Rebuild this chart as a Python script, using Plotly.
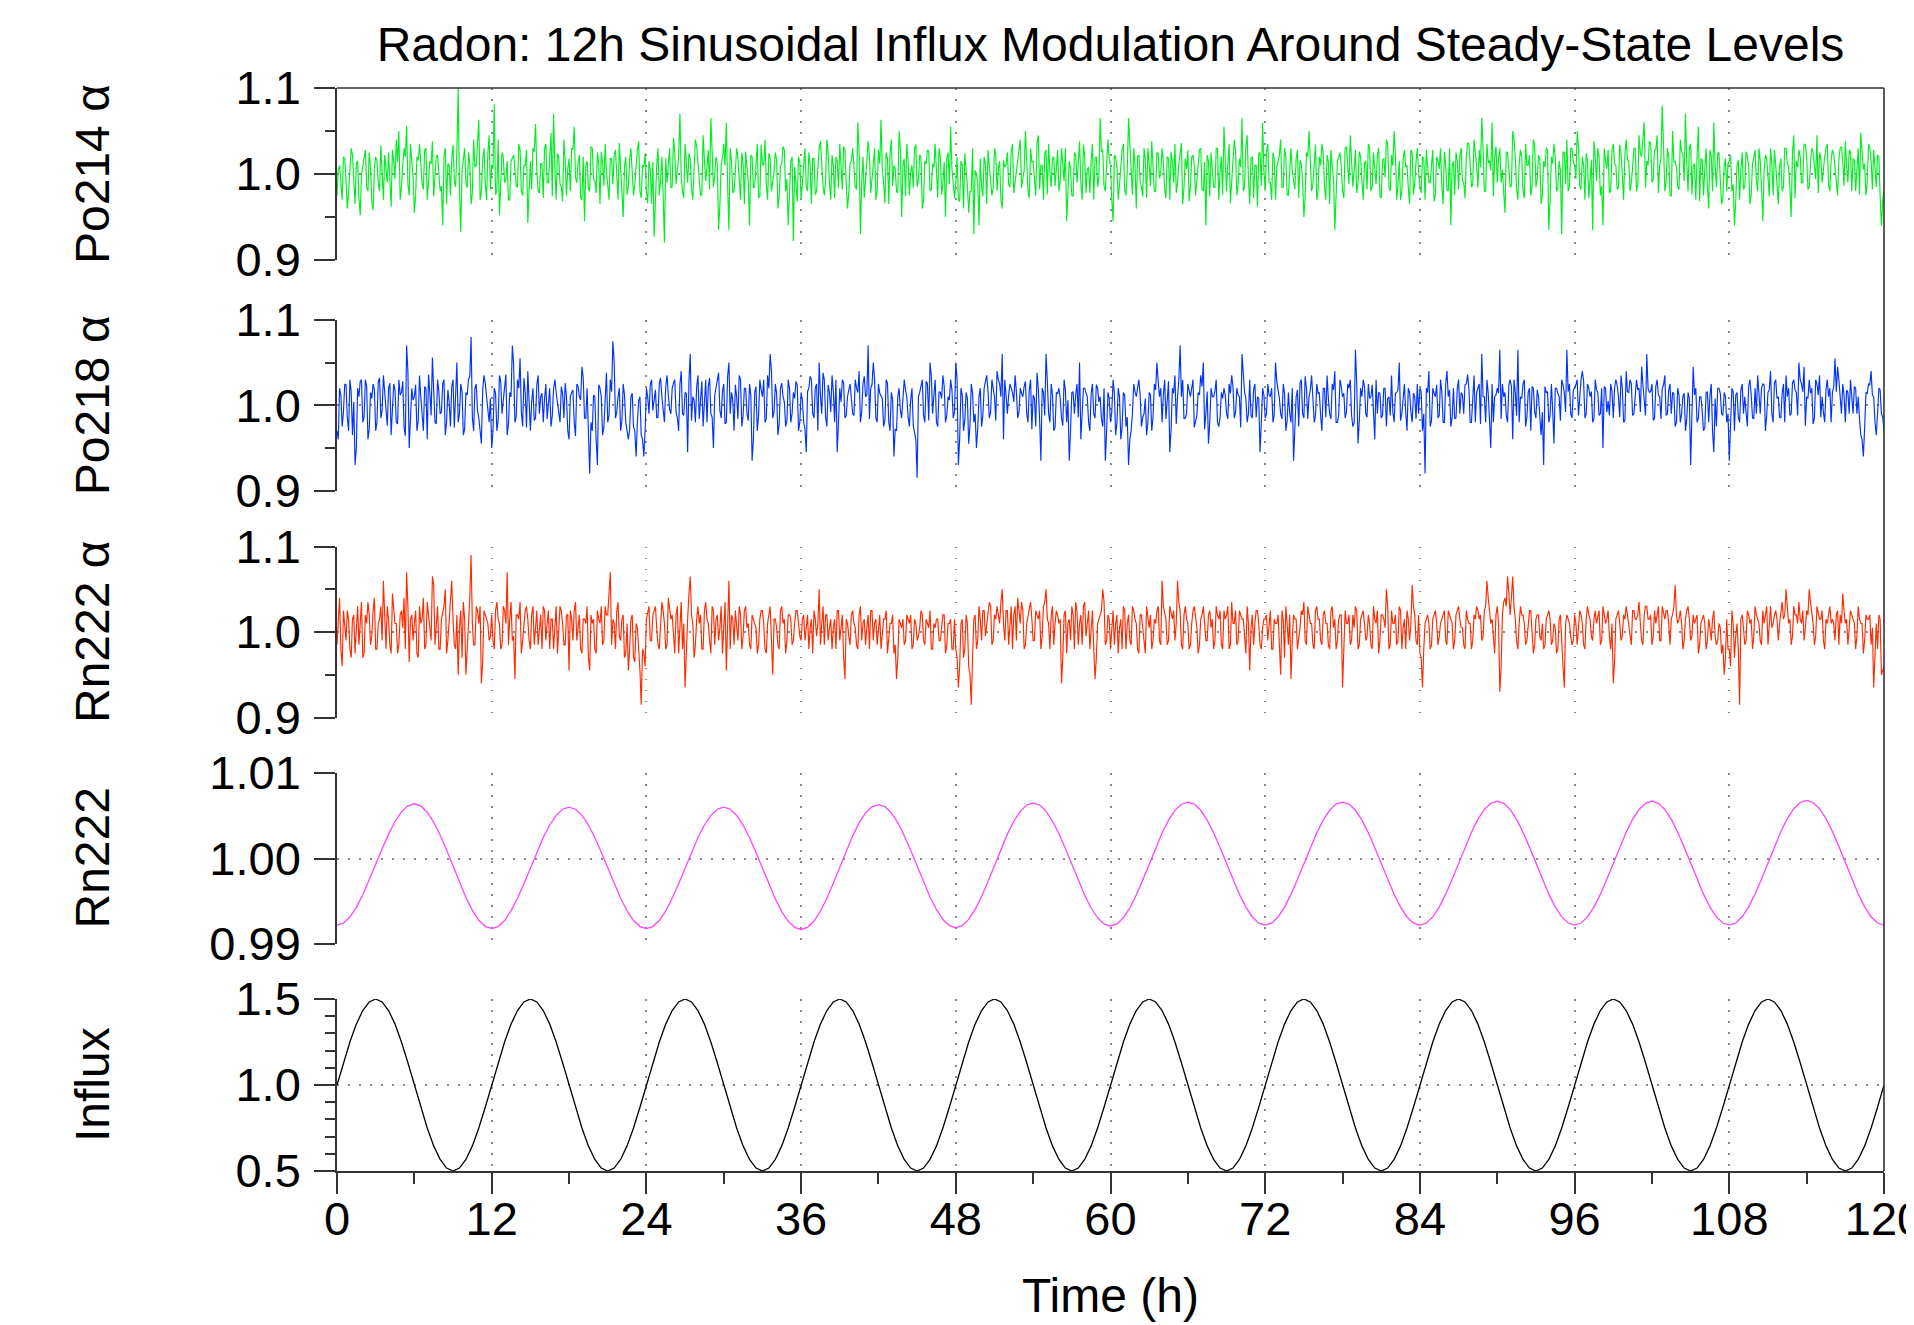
import plotly.graph_objects as go

# ---------------- data ----------------
# Noise series: deviations from 1.0 in thousandths.
# *_even: samples at t = 0.0, 0.2, ..., 120.0 h ; *_odd: samples at t = 0.1, 0.3, ..., 119.9 h
po214_even = [
    -25, 10, -30, 18, -40, 5, 22, -35, 15, -48, 12, 28, -20, 8, -42, 20, -10, 33, -30, 5,
    25, -38, 15, 40, 50, -15, 30, 56, -25, 10, -45, 20, 35, -10, 28, -30, 15, 38, -5, 22,
    -20, -60, 30, 12, -25, 34, -15, 100, -67, 20, -10, 25, -35, 40, 10, 63, -20, 30, -30, 45,
    10, 81, -20, -48, 25, -10, 15, -30, 20, 5, -15, 28, -25, 10, -57, 15, 30, 58, -20, 12,
    -28, 35, -10, 48, 70, -30, 20, -15, 40, -25, 18, 30, 55, -10, 22, -30, -55, 15, -20, 30,
    -8, 25, -35, 12, 35, -20, 18, -12, 28, -30, 10, -50, 20, -15, 30, -25, 15, 38, -28, 8,
    -20, 15, -35, -73, 10, -25, 20, -80, -10, 30, -15, 25, 5, 70, -20, 35, -10, 18, -30, 40,
    12, -25, 45, -8, 28, 65, -15, 20, -65, 10, 35, 60, -65, 15, -20, 30, -10, 25, -35, 8,
    -60, 20, -15, 35, -25, 12, 40, -30, 18, -10, 25, -40, 10, 32, -20, -60, 15, -78, -15, 20,
    -30, 10, -15, 25, -35, 18, -20, 30, 5, -25, 40, -10, 22, -28, 15, 35, -18, 28, -40, 12,
    30, -15, 60, -70, 20, -5, 38, -22, 15, -30, 28, 63, -10, 25, -35, 40, 10, -20, 50, -50,
    18, 35, -25, 10, 30, -15, 22, -40, 15, 28, -20, 12, 35, -28, 20, -10, -50, 25, 55, -15,
    -10, -30, 15, -40, 5, -45, -20, -70, 0, -60, -15, 20, -35, 10, -25, 30, -20, 15, -40, 8,
    25, -15, 35, -10, 20, 40, -5, 50, -20, 30, 15, -25, 45, 10, -30, 28, 35, -15, 20, 12,
    -20, 30, -8, -55, 15, -25, 25, -10, 38, -30, 20, 5, -22, 35, 18, -15, 65, 28, -20, 40,
    10, -55, 20, -30, 15, 35, -25, 65, -10, 30, -40, 22, -15, 30, -28, 12, 38, -20, 25, -5,
    30, -18, 20, -30, 15, 35, -10, 25, -35, 18, 28, -15, 22, -25, 10, 30, -20, -60, 15, 25,
    -15, 30, -30, 20, 55, -20, 35, -10, 40, -25, 18, 65, -15, 45, -35, 20, 10, -38, 25, 60,
    -20, 35, -10, 25, -30, 15, 40, -15, 20, -25, 30, -10, 18, -28, 12, -50, 25, 50, -20, 15,
    -30, 20, 35, -15, 22, -35, 10, -65, 15, 25, -20, 30, 12, 45, -15, 28, -10, 20, -30, 15,
    35, -20, 25, -12, 30, -28, 18, 40, -15, 22, 50, -30, 15, -20, 28, 10, -35, 25, -10, 30,
    -15, 20, -30, 12, -10, 28, -25, 15, 30, -35, 10, -20, -60, 15, 25, -18, 30, -10, 20, 35,
    -15, 40, 10, 28, 65, -20, 35, 15, 60, 20, -10, 30, 5, -45, 25, -15, 50, 20, -30, 28,
    -20, 35, 10, -25, 40, -15, 22, -35, 15, 30, -65, 20, 35, -20, 15, -70, 25, 40, -15, 30,
    10, 50, -15, 20, -30, 15, -10, -65, 20, 30, -25, -60, 15, 28, -20, 35, 10, -15, 25, -30,
    40, 15, -10, 30, -20, 45, 20, 60, 15, 38, -10, 28, 45, 10, 80, -20, 30, -25, 50, 15,
    -15, 40, 22, 70, -20, 35, 10, -30, 55, 18, -25, 30, -40, 20, 60, -15, 25, -35, 10, -20,
    15, -20, -60, 10, -30, 25, -15, 20, -35, 12, 28, -20, 15, -55, 22, -10, 30, -25, 10, -35,
    18, -15, 30, 10, -50, 45, 15, 28, -10, 35, 20, -15, 30, 10, 45, 25, -10, 20, 35, -20,
    28, 10, -25, 30, 15, 38, -10, 25, 18, -20, 30, 48, 5, -25, 35, 15, 28, -15, 20, -60,
    -20,
]
po214_odd = [
    5, -12, 20, -8, -22, 30, -5, 12, -28, 0, 18, -15, 25, -32, 8, 15, -20, 3, 22, -10,
    -18, 28, -6, 14, -30, 10, 20, -12, 35, -4, -25, 16, 8, -18, 30, -8, 12, -26, 20, 2,
    -14, 22, -35, 10, 18, -8, 26, -20, 4, 30, -16, 12, -22, 8, 45, -30, 16, -10, 24, -18,
    6, -24, 40, -12, 20, -6, -30, 15, 22, -14, 35, -20, 10, 28, -8, -18, 26, 4, -22, 12,
    30, -10, 18, -26, 8, 24, -12, -32, 16, 6, -20, 28, -4, 14, -28, 20, 10, -16, 32, -6,
    -22, 12, 26, -14, 4, -30, 18, 22, -10, 36, -18, 8, -24, 16, 2, -12, 28, -20, 10, 24,
    -34, 6, 14, -20, 30, -8, -26, 18, 10, -16, 42, -12, 20, -4, -28, 14, 24, -18, 6, 32,
    -10, -24, 16, 8, -18, 26, -2, 12, -36, 20, 10, -14, 30, -22, 4, 18, -30, 14, 26, -8,
    22, -16, 6, -28, 34, 10, -12, 24, -20, 2, 16, -26, 12, 28, -6, -18, 20, 8, -32, 14,
    -4, 30, -20, 12, 18, -24, 6, 38, -14, -8, 24, -30, 10, 20, -16, 4, 32, -12, -22, 16,
    8, -18, 26, -10, -28, 14, 22, -6, 30, -20, 12, 4, -34, 18, 24, -14, 6, -22, 28, 10,
    -26, 16, 2, -16, 34, -8, 20, -30, 12, 26, -18, 8, -4, 30, -24, 14, 18, -12, 6, -28,
    20, -32, 10, 24, -14, -20, 30, 4, -10, 18, -26, 12, 28, -8, -16, 22, 6, -30, 16, 10,
    -12, 26, -22, 8, 32, -16, 4, 20, -28, 14, -6, 36, -18, 10, 24, -24, 2, 18, -14, 28,
    -8, 14, 30, -20, 6, -26, 22, 12, -10, 34, -22, 8, 16, -30, 20, -4, 26, -14, 10, 18,
    -30, 22, 8, -12, 28, -18, 4, 32, -24, 10, 20, -8, -26, 16, 30, -14, 6, -20, 24, 2,
    14, -28, 18, 26, -10, -22, 12, 36, -16, 6, -32, 20, 10, -6, 28, -18, 14, 22, -26, 8,
    -16, 30, 4, -24, 16, 12, -34, 20, 26, -12, 8, -20, 32, -6, 18, -28, 10, 24, -14, 4,
    26, -10, -30, 18, 8, 22, -16, 30, -24, 12, 4, -18, 28, 16, -8, -26, 20, 6, -12, 34,
    -20, 10, 24, -30, 14, 28, -6, -16, 20, 8, -28, 32, -12, 18, 4, -22, 26, -8, 12, -18,
    30, -14, 6, 22, -26, 16, -4, 34, -20, 10, 24, -12, -30, 18, 8, -16, 28, -24, 14, 2,
    -22, 18, 28, -10, 12, -32, 20, 6, -14, 26, -18, 30, 8, -24, 16, 22, -8, -28, 36, 10,
    -12, 24, -16, 8, 30, -20, 14, 4, -26, 32, 18, -10, -22, 26, 6, -14, 40, -18, 12, 20,
    -28, 10, 22, -14, 34, -6, 18, -24, 8, 28, -30, 12, 20, -16, 4, 26, -12, -20, 30, 14,
    -6, 32, -18, 10, 24, -28, 16, 38, -8, 20, -14, 30, 6, -22, 28, 12, -18, 34, -10, 22,
    16, -20, 8, 30, -12, 24, 42, -16, 10, 36, -6, 28, -22, 18, 32, -10, 20, -26, 14, 8,
    -18, 26, -8, 14, 30, -24, 12, 20, -32, 16, 6, -14, 28, -20, 10, 24, -6, -28, 18, 12,
    22, -12, -30, 16, 6, -18, 26, 10, -24, 20, -8, 30, -16, 4, 18, -26, 12, 28, -14, 8,
    -20, 30, 12, -16, 24, -28, 8, 20, -10, 34, -18, 14, 26, -6, -22, 18, 10, 30, -12, 16,
    24, -8, 18, 32, -14, 10, 28, -20, 16, 6, -24, 26, 12, -10, 30, -18, 8, 22, -26, -30,
]

po218_even = [
    -30, 20, -25, 25, -15, 30, -35, -70, 20, 28, -20, 30, -40, 15, 25, -30, 28, -15, 35, -10,
    20, -35, 25, -20, 30, 15, -25, 70, -50, 20, 10, -30, 35, -15, 22, -40, 15, 56, -20, 30,
    -10, 25, -35, 18, -25, 30, 10, -20, 25, -35, 15, 30, 80, -30, 25, -15, -45, 35, 10, -20,
    -50, 20, -30, 35, -10, 25, -35, 15, 70, -20, 30, 55, -25, 15, 40, -30, 20, -15, 35, 10,
    -20, 25, 5, -25, 20, 15, -10, 22, -15, 10, -40, 15, -20, 25, 10, 45, -15, 20, -80, -30,
    10, -70, 20, -35, 15, -20, 30, 75, -15, 10, -30, 25, -20, -40, 10, -25, -60, 5, -35, -60,
    20, -10, 30, 5, -15, 25, 10, -20, 35, -5, 20, 30, -15, 25, -10, 15, -55, 60, 10, -20,
    35, 15, -25, 30, 22, -10, -50, 20, 38, -15, 25, -20, 50, 15, -30, 10, 35, -25, 20, -10,
    25, -65, 15, -30, 30, 10, -20, 35, 60, -15, 25, -35, 20, 10, -25, 30, -20, 15, 28, -30,
    15, -20, -55, 20, 30, -15, 25, 50, -10, 30, -25, 15, 35, -20, -55, 20, 30, -15, 10, 25,
    -10, 30, 15, -20, 25, 10, 70, 20, 50, -15, 25, 10, -25, 30, -20, 15, -60, -30, 20, -15,
    30, 10, -25, 20, -35, -85, 15, 30, -20, 25, 50, -10, 30, -25, 15, 35, -20, 10, 30, -15,
    50, -70, 20, -30, 15, -45, 25, -20, -50, 10, -25, 20, 35, -15, 30, 10, 40, 25, 60, 30,
    -10, 25, 15, 35, -15, 20, 10, 28, -20, 30, 12, -25, 20, -65, 15, 60, -10, 25, -30, 15,
    20, -15, 30, -20, -65, 15, -10, 25, 50, -15, 20, 10, -30, 25, -15, 20, 10, -25, -65, 15,
    -20, 30, -35, 20, -40, 15, -25, -70, -30, 25, 10, 30, -25, -10, -35, 15, -30, 25, 50, 10,
    -20, 30, 15, -55, 20, 35, 10, 70, 30, -15, 25, 10, 30, -20, 15, 35, 50, -10, -45, 20,
    10, 30, -25, 15, 20, -10, 25, 35, -15, 20, 10, 60, 15, -20, 30, -15, 25, 10, -55, 20,
    -15, 25, 10, -20, 50, 20, -10, 25, -30, 15, -20, -65, 10, -25, 30, -15, 20, 10, 35, -20,
    25, 15, -30, 20, 35, -10, 25, 40, -20, 30, 10, -15, 25, 30, -25, 65, -45, 20, 30, -10,
    25, 10, -20, 30, 15, -15, 20, -25, 10, 35, -20, 15, 50, -10, 25, -30, 15, -20, 10, 25,
    20, -30, -80, 15, -25, 20, 10, -15, 30, -20, 25, 10, -25, 20, -15, 30, 15, -10, 25, 20,
    -20, 35, 15, 25, 60, 10, 30, -15, 25, 10, 20, 65, 25, 15, -20, 30, -40, 15, 65, 10,
    25, -25, 15, -30, 20, -15, 10, -35, -70, 15, -20, 25, -45, 20, 10, 30, 15, 65, 25, -15,
    20, 30, 10, 40, -15, 25, 10, -20, 30, 15, -10, -50, 20, 5, 25, -15, 30, 10, 35, -20,
    40, 15, 25, -10, 30, 20, 45, 10, 60, 15, 25, -15, 30, 10, 20, 35, -10, 25, 15, -25,
    20, -20, 10, -30, 15, -70, 45, 20, -15, 10, -30, 15, -20, 25, -55, -25, 20, -10, 15, -20,
    -65, 20, -30, 15, -20, 25, 10, -25, 30, -15, 20, 35, -10, 25, -30, 15, 40, -20, 30, 10,
    -15, 25, 35, 20, -10, 30, 15, 50, 25, 45, 10, 30, 20, -15, 25, 35, 10, -20, 30, 20,
    15, 55, 45, 10, 25, -20, 15, 30, -10, 20, 10, -35, -60, 15, 25, 40, 10, -35, 20, -10,
    -30,
]
po218_odd = [
    -40, 12, -8, 24, -30, 16, 4, -50, 10, 30, -14, 22, -28, 8, 18, -20, 32, -6, 14, -24,
    26, -10, 18, -22, 12, 28, -36, 40, -16, 6, 24, -18, 10, -30, 20, 36, -12, 8, -22, 16,
    -8, 30, -20, 4, 22, -26, 50, -10, 16, -28, 12, 34, -14, 20, -6, -36, 18, 26, -12, 8,
    -30, 14, -18, 28, 6, 36, -22, 10, 48, -14, 20, -8, 32, -26, 12, 4, -18, 24, -10, 14,
    8, -16, 20, -12, 30, 2, -20, 14, 26, -30, 10, 18, -36, 22, 6, 32, -16, -50, -20, 12,
    -40, 24, 10, -26, 38, -12, 16, 50, -8, 20, -18, 12, -32, -28, 14, -30, -20, 10, -40, -30,
    10, 24, -6, 18, -14, 32, -4, 22, 12, -10, 26, -8, -30, 40, -12, 14, 28, -18, 6, 22,
    -16, 28, 8, -20, 32, -14, 12, 26, -6, 16, -22, 34, -10, 6, 24, -16, 30, -12, 20, -18,
    12, -40, 22, -12, 18, 30, -16, 20, 40, -8, 14, -22, 26, 4, -18, 20, -10, 8, 24, -20,
    6, -28, 16, 34, -10, 20, -30, 12, 38, -14, 24, -8, 16, 30, -20, 4, 26, -12, 18, 8,
    -12, 20, 40, -8, 34, 12, -16, 24, 30, -20, 14, 8, -18, 26, -30, 6, -28, 10, -6, 4,
    18, -14, 6, -24, -40, 10, 22, -12, 28, -18, 34, 12, -20, 16, 8, 22, -12, 6, 18, -8,
    30, -40, 12, -18, 8, -24, 14, -10, -28, 20, -12, 28, 16, -8, 20, -18, 30, 10, -40, 12,
    12, 20, 4, 16, -8, 14, 22, -10, 18, -28, 8, 38, -16, 20, -12, 28, -20, 12, -26, 14,
    8, -24, 18, 6, -30, 16, 12, -14, -40, 20, 16, -20, 14, -10, 24, 4, -16, 20, -30, 8,
    -8, 14, -20, 10, -26, 12, -14, -40, -10, 16, 20, 12, -14, 8, -20, 12, -14, 18, 28, 20,
    12, -16, 28, -28, 14, -22, 30, 10, -16, -10, 18, 20, -26, -12, 12, 22, -28, 16, -20, 10,
    16, -20, -14, 8, 12, -16, 14, 22, -8, 12, -26, 36, 8, -10, -12, 18, -14, 8, -20, 12,
    -10, 12, 20, -12, 28, 8, -16, 14, -18, -10, 20, -24, 18, 26, -10, 34, -16, 18, 8, -12,
    14, -12, 20, -14, 8, -16, 18, -20, -12, 22, 14, -8, 20, -12, -20, 26, -18, 10, 22, -14,
    8, 24, -40, -10, 14, -12, 20, 8, -12, -8, 14, 18, -18, 12, -8, 20, -8, 14, -16, -10,
    16, -10, 20, 40, -18, 14, 24, -12, 16, -20, 40, 18, -14, -16, 20, -10, 12, 24, 36, -20,
    8, -20, 20, -22, 10, -20, 14, -50, -20, 12, 14, -16, 10, -12, 24, 22, 30, -12, -20, 8,
    30, -14, 20, 22, -8, 18, -14, -8, 22, 16, -12, -6, 20, 14, -18, 24, -8, 16, -10, 18,
    24, -12, 30, 28, -10, 20, 16, -16, 18, -12, 20, 22, -8, -12, 16, 20, 24, -14, 20, -18,
    16, 30, -12, 14, 18, -8, 24, -12, 20, 16, -18, 22, 12, -16, 24, -12, 18, -10, 14, -20,
    12, -10, 14, -16, 8, -22, 12, -20, 10, -8, -26, 16, 12, -30, 8, 20, 14, -12, 10, -10,
    -22, 16, 12, -14, 18, -10, -8, 22, 12, -16, -10, 14, 20, 24, -12, 18, -10, 26, 8, -14,
    14, -20, 10, -12, 26, 18, -12, 30, 16, -24, 8, 14, -22, 30, 12, -14, -8, 18, 10, -20,
    22, 16, 30, -10, 12, 18, -10, 14, 22, -10, -16, -40, -26, 14, 24, 12, -20, -10, 18, -14,
]

rn222a_even = [
    -15, 40, -40, 10, 25, -20, 15, -25, 30, 10, -30, 20, 35, -15, 25, -20, 10, 30, 60, -20,
    15, -25, 30, 10, -15, 25, 40, 70, -35, 20, 10, -25, 30, 15, -20, 35, 10, 65, -15, 30,
    -20, 25, 50, -10, 30, 15, -20, -50, 25, 35, -50, 20, 90, -15, 30, 10, -60, 25, 15, -10,
    20, -20, 35, 10, -15, 25, 70, 15, -10, -55, 20, 35, -10, 25, 15, -20, 30, 10, -15, 20,
    30, -10, 25, 15, -20, 30, 10, 25, -15, 20, -45, 15, 25, -10, 20, -25, 15, 30, -45, 10,
    -20, 25, 10, -15, 30, 20, 70, 15, -20, 35, -10, 20, -25, -45, 15, -30, 10, -20, -85, -25,
    15, 30, -10, 25, 5, -20, 35, 10, -15, 25, 20, -25, 30, 10, -20, -65, 15, 65, 10, -15,
    30, 20, -20, 35, 10, -25, 25, 15, -10, 30, 5, -45, 60, 20, -15, 10, 30, -20, 25, 5,
    -15, 20, 10, -25, 15, 25, -20, 10, 30, -50, 15, -15, 25, 10, -25, 20, 15, -10, 25, 10,
    -10, 20, 5, -20, 15, 25, -5, 50, 10, -15, 20, 5, -20, 15, 25, -10, 20, -55, 10, -15,
    25, 5, -20, 30, 10, -15, 20, 25, -10, 15, 5, -20, 15, 25, -5, 10, -25, -55, 15, 5,
    -15, 20, 10, -20, 15, -10, 5, 20, -15, 10, 25, -20, 5, 15, -10, 20, -25, 10, 15, -20,
    -20, -65, 10, -30, 20, -40, -85, 15, -20, 30, -10, 25, 10, 35, -15, 20, 30, 10, 50, -10,
    25, 15, -20, 30, 40, 10, 25, -15, 20, 35, -10, 25, 15, -20, 30, 50, 10, 20, -15, 25,
    10, -60, 20, -25, 15, 30, -20, 25, 10, -15, 35, 15, -20, 25, -55, 10, 20, 50, -15, 20,
    -20, 25, 10, -25, 15, 30, -20, 20, -15, 25, 10, -25, 20, -15, 30, 5, -20, 15, 25, -10,
    60, 20, -15, 30, 15, -10, 60, 25, -20, 30, 10, -15, 25, 20, -25, 15, 30, -10, 20, 5,
    -20, 30, 15, -15, 25, 20, -20, 35, 10, -15, 25, 15, -10, 30, -45, 20, 10, 25, -15, 5,
    15, -10, 25, -20, 10, 20, -50, 15, 30, -15, -55, 20, 15, -10, 25, 35, -15, 20, 10, -20,
    30, 15, -15, 25, 10, -20, 30, 15, -10, 20, -65, 25, 10, -15, 20, 30, -20, 15, 25, -10,
    20, -15, 30, 10, -25, 20, 15, 50, -20, 25, 10, -15, 30, -20, 15, 25, -10, 55, 20, -15,
    -25, -65, 10, 20, -20, 15, 25, -15, 10, 20, -10, 25, 15, -20, 20, 30, 5, -15, 25, 10,
    -20, 20, 30, 15, -10, 25, 60, 20, 15, -25, 30, -70, 20, 40, 65, 20, 65, 15, -20, 30,
    20, -15, 10, 25, -25, 15, 20, -10, -20, 15, 25, -15, 10, -25, 15, -20, -65, 20, 10, -15,
    20, -15, 25, 10, -20, 30, 15, -10, 25, 20, -15, 30, 10, 25, -20, -60, 15, 25, -10, 20,
    30, 10, -15, 25, 15, 35, -10, 20, 30, 15, -15, 25, 20, -10, 30, 15, 25, -15, 20, 55,
    10, 25, -20, 15, 30, -10, 20, 15, -25, 10, 20, -20, 15, -10, 25, -15, 10, -25, -50, 15,
    -20, 25, -30, 10, -85, 20, -15, 25, 10, -20, 30, 15, -10, 25, 20, -15, 30, 10, 25, -10,
    20, 15, 50, 10, -15, 30, 20, 35, 10, -10, 25, 50, 20, -15, 30, 15, 25, -20, 10, 30,
    15, -10, 25, 20, 45, 10, -15, 25, 15, -20, 30, 10, -25, 20, 15, -15, -65, 10, 20, -50,
    -40,
]
rn222a_odd = [
    10, -20, 25, -10, 15, -30, 20, 5, -15, 35, -25, 10, 20, -5, 40, -20, 15, -10, 25, 30,
    -15, 45, 10, -25, 20, 5, -20, 30, 15, -10, 25, -30, 10, 40, -15, 20, -10, 55, 5, -20,
    15, 30, -25, 10, 60, -15, 20, 5, -30, 15, -20, 40, 10, -15, 25, 30, -35, 20, 10, -5,
    -10, 25, 15, -20, 30, 10, -15, 35, -5, 20, 15, -25, 10, 30, -10, 20, -15, 25, 5, -20,
    25, 10, -20, 15, 5, -25, 30, 10, -15, 20, 25, -10, 35, 5, -20, 15, 10, -30, 20, 15,
    -25, 15, 30, -10, 20, 45, -15, 10, 25, -5, 15, -30, 10, -20, 20, -35, 5, -45, -20, -40,
    25, -10, 20, 30, -15, 10, 25, -20, 40, 15, -10, 20, -25, 35, 10, -15, 45, 20, -30, 15,
    10, -20, 25, 15, -10, 30, -15, 20, 5, -25, 35, 10, -20, 15, 25, -10, 20, -5, 30, 10,
    -20, 15, 5, -15, 25, 10, -25, 20, -10, 15, 5, -20, 30, 15, -10, 20, -15, 10, 25, -5,
    15, -10, 20, 5, -25, 15, 10, -15, 30, 20, -10, 15, 5, -20, 25, 10, -30, 15, -5, 20,
    10, -15, 20, -10, 15, 5, -20, 25, 10, -15, 20, -5, 15, -25, 10, 20, -15, -30, 10, 15,
    -10, 15, 20, -15, 10, -5, 25, -10, 15, 5, -20, 10, 15, -10, 5, 20, -15, 10, -20, 15,
    -30, -40, 15, -20, 10, -50, -30, 20, -10, 15, 25, -5, 20, 30, -10, 15, 20, 35, 10, 25,
    -15, 30, 20, -10, 25, 35, -20, 10, 30, 15, -10, 20, 25, -5, 35, 15, -20, 30, 10, 20,
    15, -30, 25, 10, -10, 20, 35, -15, 20, 30, -5, 25, 10, -20, -30, 15, 25, 35, -10, 15,
    10, -15, 20, 5, -20, 25, 10, -10, 30, 15, -20, 20, 5, -25, 15, 20, -10, 10, 30, -15,
    30, 15, -10, 20, 25, 10, 35, -15, 20, 15, -20, 10, 30, 5, -15, 20, 10, -10, 25, 15,
    -10, 20, 25, -20, 15, 30, -15, 10, 25, -10, 20, 15, -25, 10, 5, -15, 25, 10, -20, 15,
    20, 5, -20, 15, 10, -15, 25, -30, 10, 20, -10, 15, -20, 5, 20, -10, 30, 10, -15, 25,
    15, -10, 20, 10, -15, 25, 5, -20, 15, 20, -30, 10, 20, -10, 5, 25, -15, 20, 10, -5,
    10, -20, 15, 25, -10, 20, 5, 30, -15, 10, 20, -10, 25, 5, -20, 15, 10, 30, -10, 20,
    -30, -20, 15, 10, -15, 20, 10, -5, 15, 25, -15, 20, 10, -10, 25, 15, 5, -20, 15, 10,
    -10, 15, 25, 20, -5, 30, 40, 10, -10, 20, 10, -40, 35, 30, 45, 40, 30, -10, 10, 20,
    10, -10, 25, 5, -15, 20, -5, 10, -15, 20, 15, -10, 5, -20, 20, -40, 10, 15, -5, -10,
    10, 5, 20, -15, 15, 20, -5, 15, 10, 25, -10, 20, 15, -5, 10, -35, 20, 10, -5, 15,
    20, -5, 25, 15, 20, 10, -15, 30, 15, 20, -5, 10, 30, -10, 20, 25, 10, 15, 30, 20,
    15, 10, -10, 25, 15, -5, 10, 20, -15, 15, 10, -10, 5, 15, -5, -10, 5, -15, -30, -20,
    -40, 10, -5, -20, 15, 5, -10, 20, 15, -5, 20, 10, -15, 10, 30, 15, 5, 20, 15, 10,
    35, 20, 25, 15, -5, 20, 10, 15, 25, 5, 20, 35, 10, -5, 20, 15, -10, 15, 20, 10,
    10, 20, -15, 10, 25, 15, 5, 20, 10, -5, 15, 10, -10, 15, 20, 5, -30, -20, 15, -45,
]

# Rn222 concentration (relative), 0.5 h spacing
rn222 = [
    0.9922, 0.99244, 0.99315, 0.99428, 0.99575, 0.99746, 0.9993, 1.00114, 1.00285, 1.00432, 1.00545, 1.00616,
    1.0064, 1.00615, 1.00542, 1.00426, 1.00275, 1.00099, 0.9991, 0.99721, 0.99545, 0.99394, 0.99278, 0.99205,
    0.9918, 0.99204, 0.99275, 0.99388, 0.99535, 0.99706, 0.9989, 1.00074, 1.00245, 1.00392, 1.00505, 1.00576,
    1.006, 1.00576, 1.00505, 1.00392, 1.00245, 1.00074, 0.9989, 0.99706, 0.99535, 0.99388, 0.99275, 0.99204,
    0.9918, 0.99204, 0.99275, 0.99388, 0.99535, 0.99706, 0.9989, 1.00074, 1.00245, 1.00392, 1.00505, 1.00576,
    1.006, 1.00576, 1.00504, 1.00391, 1.00242, 1.0007, 0.99885, 0.997, 0.99527, 0.99379, 0.99266, 0.99194,
    0.9917, 0.99195, 0.99268, 0.99384, 0.99535, 0.99711, 0.999, 1.00089, 1.00265, 1.00416, 1.00532, 1.00605,
    1.0063, 1.00606, 1.00534, 1.00419, 1.0027, 1.00096, 0.9991, 0.99724, 0.9955, 0.99401, 0.99286, 0.99214,
    0.9919, 0.99215, 0.99288, 0.99404, 0.99555, 0.99731, 0.9992, 1.00109, 1.00285, 1.00436, 1.00552, 1.00625,
    1.0065, 1.00626, 1.00554, 1.00439, 1.0029, 1.00116, 0.9993, 0.99744, 0.9957, 0.99421, 0.99306, 0.99234,
    0.9921, 0.99235, 0.99307, 0.99422, 0.99573, 0.99747, 0.99935, 1.00123, 1.00298, 1.00448, 1.00563, 1.00635,
    1.0066, 1.00636, 1.00564, 1.00449, 1.003, 1.00126, 0.9994, 0.99754, 0.9958, 0.99431, 0.99316, 0.99244,
    0.9922, 0.99244, 0.99316, 0.99431, 0.9958, 0.99754, 0.9994, 1.00126, 1.003, 1.00449, 1.00564, 1.00636,
    1.0066, 1.00636, 1.00564, 1.00449, 1.003, 1.00126, 0.9994, 0.99754, 0.9958, 0.99431, 0.99316, 0.99244,
    0.9922, 0.99245, 0.99317, 0.99432, 0.99583, 0.99757, 0.99945, 1.00133, 1.00308, 1.00458, 1.00573, 1.00645,
    1.0067, 1.00645, 1.00573, 1.00458, 1.00308, 1.00133, 0.99945, 0.99757, 0.99583, 0.99432, 0.99317, 0.99245,
    0.9922, 0.99245, 0.99317, 0.99432, 0.99583, 0.99757, 0.99945, 1.00133, 1.00308, 1.00458, 1.00573, 1.00645,
    1.0067, 1.00645, 1.00573, 1.00458, 1.00308, 1.00133, 0.99945, 0.99757, 0.99583, 0.99432, 0.99317, 0.99245,
    0.9922, 0.99245, 0.99318, 0.99434, 0.99585, 0.99761, 0.9995, 1.00139, 1.00315, 1.00466, 1.00582, 1.00655,
    1.0068, 1.00655, 1.00582, 1.00466, 1.00315, 1.00139, 0.9995, 0.99761, 0.99585, 0.99434, 0.99318, 0.99245,
    0.9922,
]

# Influx (relative), 0.5 h spacing
influx = [
    1.0, 1.129, 1.25, 1.354, 1.433, 1.483, 1.5, 1.483, 1.433, 1.354, 1.25, 1.129,
    1.0, 0.871, 0.75, 0.646, 0.567, 0.517, 0.5, 0.517, 0.567, 0.646, 0.75, 0.871,
    1.0, 1.129, 1.25, 1.354, 1.433, 1.483, 1.5, 1.483, 1.433, 1.354, 1.25, 1.129,
    1.0, 0.871, 0.75, 0.646, 0.567, 0.517, 0.5, 0.517, 0.567, 0.646, 0.75, 0.871,
    1.0, 1.129, 1.25, 1.354, 1.433, 1.483, 1.5, 1.483, 1.433, 1.354, 1.25, 1.129,
    1.0, 0.871, 0.75, 0.646, 0.567, 0.517, 0.5, 0.517, 0.567, 0.646, 0.75, 0.871,
    1.0, 1.129, 1.25, 1.354, 1.433, 1.483, 1.5, 1.483, 1.433, 1.354, 1.25, 1.129,
    1.0, 0.871, 0.75, 0.646, 0.567, 0.517, 0.5, 0.517, 0.567, 0.646, 0.75, 0.871,
    1.0, 1.129, 1.25, 1.354, 1.433, 1.483, 1.5, 1.483, 1.433, 1.354, 1.25, 1.129,
    1.0, 0.871, 0.75, 0.646, 0.567, 0.517, 0.5, 0.517, 0.567, 0.646, 0.75, 0.871,
    1.0, 1.129, 1.25, 1.354, 1.433, 1.483, 1.5, 1.483, 1.433, 1.354, 1.25, 1.129,
    1.0, 0.871, 0.75, 0.646, 0.567, 0.517, 0.5, 0.517, 0.567, 0.646, 0.75, 0.871,
    1.0, 1.129, 1.25, 1.354, 1.433, 1.483, 1.5, 1.483, 1.433, 1.354, 1.25, 1.129,
    1.0, 0.871, 0.75, 0.646, 0.567, 0.517, 0.5, 0.517, 0.567, 0.646, 0.75, 0.871,
    1.0, 1.129, 1.25, 1.354, 1.433, 1.483, 1.5, 1.483, 1.433, 1.354, 1.25, 1.129,
    1.0, 0.871, 0.75, 0.646, 0.567, 0.517, 0.5, 0.517, 0.567, 0.646, 0.75, 0.871,
    1.0, 1.129, 1.25, 1.354, 1.433, 1.483, 1.5, 1.483, 1.433, 1.354, 1.25, 1.129,
    1.0, 0.871, 0.75, 0.646, 0.567, 0.517, 0.5, 0.517, 0.567, 0.646, 0.75, 0.871,
    1.0, 1.129, 1.25, 1.354, 1.433, 1.483, 1.5, 1.483, 1.433, 1.354, 1.25, 1.129,
    1.0, 0.871, 0.75, 0.646, 0.567, 0.517, 0.5, 0.517, 0.567, 0.646, 0.75, 0.871,
    1.0,
]

panel_labels = ["Po214 α", "Po218 α", "Rn222 α", "Rn222", "Influx"]
y_ranges = [[0.9, 1.1], [0.9, 1.1], [0.9, 1.1], [0.99, 1.01], [0.5, 1.5]]
y_major = [0.1, 0.1, 0.1, 0.01, 0.5]
y_minor = [0.05, 0.05, 0.05, None, 0.1]
y_formats = [".1f", ".1f", ".1f", ".2f", ".1f"]
x_ticks = [0, 12, 24, 36, 48, 60, 72, 84, 96, 108, 120]
title_text = "Radon: 12h Sinusoidal Influx Modulation Around Steady-State Levels"
x_title = "Time (h)"

# ---------------- build ----------------
def times(n, total=120.0):
    return [round(total * i / (n - 1), 4) for i in range(n)]

def merge_milli(even, odd):
    out = []
    for k, v in enumerate(even):
        out.append(1 + v / 1000)
        if k < len(odd) and k < len(even) - 1:
            out.append(1 + odd[k] / 1000)
    return out

series = [
    merge_milli(po214_even, po214_odd),
    merge_milli(po218_even, po218_odd),
    merge_milli(rn222a_even, rn222a_odd),
    rn222,
    influx,
]
colors = ["#00ee22", "#0033ff", "#ff2a00", "#ff44ff", "#000000"]
widths = [1.15, 1.15, 1.15, 1.3, 1.3]

# the page body has an 8px margin, so the figure is drawn 8px smaller and
# all measured page positions are shifted by 8px
OFF = 8
W, H = 1914 - OFF, 1325 - OFF
ML = 337 - OFF
MT = 88 - OFF
MR = 1914 - 1884
MB = 1325 - 1171
plot_w = W - ML - MR
plot_h = H - MT - MB
bands = [(88, 260), (320, 490.5), (546.5, 717.5), (773, 944), (999, 1171)]  # page px
domains = [[(1171 - b) / plot_h, (1171 - t) / plot_h] for t, b in bands]

FONT = "Liberation Sans, Arial, Helvetica, sans-serif"
AX = "#333333"
GRID = "#8a8a8a"
TICKSIZE = 47

fig = go.Figure()
for i, ys in enumerate(series):
    fig.add_trace(go.Scatter(
        x=times(len(ys)), y=ys, mode="lines",
        line=dict(color=colors[i], width=widths[i]),
        xaxis="x" if i == 0 else f"x{i+1}",
        yaxis="y" if i == 0 else f"y{i+1}",
        showlegend=False, hoverinfo="skip",
    ))

layout = dict(
    width=W, height=H, autosize=False,
    margin=dict(l=ML, r=MR, t=MT, b=MB, autoexpand=False),
    paper_bgcolor="white", plot_bgcolor="white",
    font=dict(family=FONT, size=TICKSIZE, color="black"),
    title=dict(text=title_text, x=0.5, xref="paper", xanchor="center",
               y=1 - (44 - OFF) / H, yref="container", yanchor="middle",
               font=dict(size=48, family=FONT, color="black")),
    showlegend=False,
)

for i in range(5):
    xs = "xaxis" if i == 0 else f"xaxis{i+1}"
    ysn = "yaxis" if i == 0 else f"yaxis{i+1}"
    last = (i == 4)
    xa = dict(
        domain=[0, 1], anchor="y" if i == 0 else f"y{i+1}",
        range=[0, 120], tickmode="array", tickvals=x_ticks,
        showgrid=True, gridcolor=GRID, gridwidth=1.6, griddash="1.6px,9.4px",
        zeroline=False, automargin=False,
        showticklabels=last, ticklabeloverflow="allow", ticklabelstandoff=-15,
        ticks="outside" if last else "",
        ticklen=21, tickwidth=1.6, tickcolor=AX,
        showline=last, linecolor=AX, linewidth=1.6,
        tickfont=dict(size=TICKSIZE, family=FONT),
    )
    if last:
        xa["minor"] = dict(dtick=6, tick0=0, ticks="outside", ticklen=11,
                           tickwidth=1.6, tickcolor=AX, showgrid=False)
    else:
        xa["matches"] = "x5"
    layout[xs] = xa
    ya = dict(
        domain=domains[i], anchor="x" if i == 0 else f"x{i+1}",
        range=y_ranges[i], tick0=y_ranges[i][0], dtick=y_major[i],
        tickformat=y_formats[i],
        showgrid=True, gridcolor=GRID, gridwidth=1.6, griddash="1.6px,9.4px",
        zeroline=False, automargin=False, ticklabeloverflow="allow",
        ticklabelstandoff=4,
        ticks="outside", ticklen=21, tickwidth=1.6, tickcolor=AX,
        showline=True, linecolor=AX, linewidth=1.6,
        tickfont=dict(size=TICKSIZE, family=FONT),
    )
    if y_minor[i]:
        ya["minor"] = dict(dtick=y_minor[i], tick0=y_ranges[i][0], ticks="outside",
                           ticklen=10, tickwidth=1.6, tickcolor=AX, showgrid=False)
    layout[ysn] = ya

fig.update_layout(**layout)

# frame: top and right edges
fig.add_shape(type="line", xref="paper", yref="paper", x0=0, x1=1, y0=1, y1=1,
              line=dict(color=AX, width=1.6))
fig.add_shape(type="line", xref="paper", yref="paper", x0=1, x1=1, y0=0, y1=1,
              line=dict(color=AX, width=1.6))

# y-axis titles
for i, lab in enumerate(panel_labels):
    fig.add_annotation(text=lab, xref="paper", yref="paper",
                       x=(92 - 337) / plot_w, y=sum(domains[i]) / 2,
                       xanchor="center", yanchor="middle", textangle=-90,
                       showarrow=False, font=dict(size=48, family=FONT, color="black"))
# x-axis title
fig.add_annotation(text=x_title, xref="paper", yref="paper",
                   x=0.5, y=-(1295 - 1171) / plot_h,
                   xanchor="center", yanchor="middle", showarrow=False,
                   font=dict(size=48, family=FONT, color="black"))

fig.write_html("out.html")
